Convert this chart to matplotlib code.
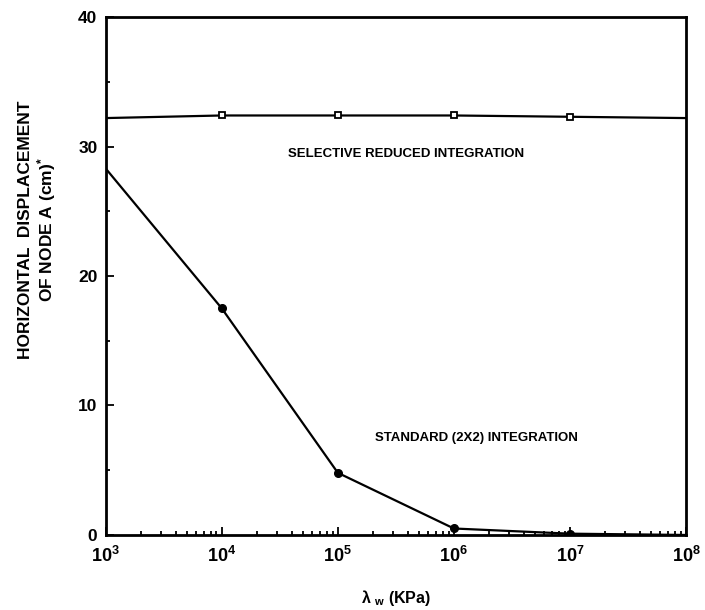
import numpy as np
import matplotlib
from matplotlib import pyplot as plt
from matplotlib.ticker import FixedLocator, NullFormatter, LogLocator
plt.switch_backend('agg')

plt.rcParams['font.family'] = ['Liberation Sans', 'DejaVu Sans']
plt.rcParams['mathtext.fontset'] = 'custom'
plt.rcParams['mathtext.rm'] = 'Liberation Sans:bold'
plt.rcParams['mathtext.it'] = 'Liberation Sans:bold'
plt.rcParams['mathtext.bf'] = 'Liberation Sans:bold'

# data
lam_w = [1e3, 1e4, 1e5, 1e6, 1e7, 1e8]
selective = [32.2, 32.4, 32.4, 32.4, 32.3, 32.2]
standard = [28.3, 17.5, 4.8, 0.5, 0.1, 0.0]
x_ticks = [1e3, 1e4, 1e5, 1e6, 1e7, 1e8]
x_ticklabels = ['10$^{3}$', '10$^{4}$', '10$^{5}$', '10$^{6}$', '10$^{7}$', '10$^{8}$']
y_ticks = [0, 10, 20, 30, 40]

fig = plt.figure(figsize=(7.05, 6.10), dpi=100)
ax = fig.add_axes([0.150, 0.123, 0.823, 0.849])

ax.plot(lam_w, selective, color='black', lw=1.6)
ax.plot(lam_w[1:5], selective[1:5], ls='none', marker='s', ms=5,
        mfc='white', mec='black', mew=1.3)
ax.plot(lam_w, standard, color='black', lw=1.6)
ax.plot(lam_w[1:5], standard[1:5], ls='none', marker='o', ms=5.5,
        color='black')

ax.set_xscale('log')
ax.set_xlim(1e3, 1e8)
ax.set_ylim(0, 40)

ax.xaxis.set_major_locator(FixedLocator(x_ticks))
ax.set_xticklabels(x_ticklabels, fontsize=13, fontweight='bold')
ax.xaxis.set_minor_locator(LogLocator(base=10, subs=np.arange(2, 10)))
ax.xaxis.set_minor_formatter(NullFormatter())
ax.set_yticks(y_ticks)
ax.set_yticks([5, 15, 25, 35], minor=True)
ax.set_yticklabels([str(v) for v in y_ticks], fontsize=12.5, fontweight='bold')

ax.tick_params(which='both', direction='in', width=1.3)
ax.tick_params(which='major', length=6)
ax.tick_params(which='minor', length=3)
ax.tick_params(axis='x', which='major', pad=8)
ax.tick_params(axis='y', which='major', pad=6)
for s in ax.spines.values():
    s.set_linewidth(2)

ax.text(10**4.57, 29.4, 'SELECTIVE REDUCED INTEGRATION', fontsize=9.5,
        fontweight='bold', va='center', ha='left')
ax.text(10**5.32, 7.5, 'STANDARD (2X2) INTEGRATION', fontsize=9.5,
        fontweight='bold', va='center', ha='left')

ax.set_ylabel('HORIZONTAL  DISPLACEMENT\nOF NODE A (cm)$^{*}$', fontsize=12.5,
              fontweight='bold', linespacing=1.1)
ax.yaxis.set_label_coords(-0.083, 0.59)
ax.set_xlabel(r'$\lambda$ $_{\mathrm{w}}$ (KPa)', fontsize=11.5, fontweight='bold', labelpad=16)

plt.savefig('out.png', dpi=100)
